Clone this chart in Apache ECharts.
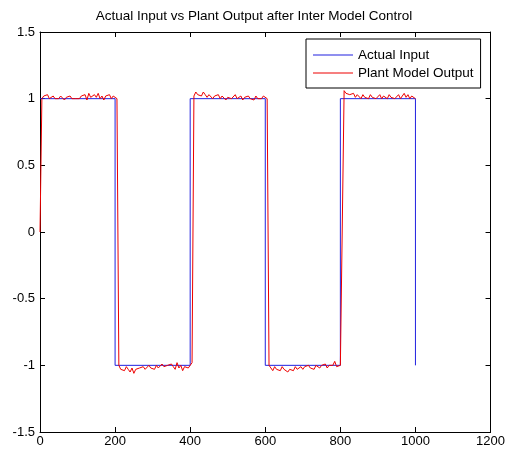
<!DOCTYPE html>
<html>
<head>
<meta charset="utf-8">
<script src="https://cdn.jsdelivr.net/npm/echarts@6/dist/echarts.min.js"></script>
<style>html,body{margin:0;padding:0;background:#fff;}#c{width:508px;height:456px;}</style>
</head>
<body>
<div id="c"></div>
<script>
const titleText = 'Actual Input vs Plant Output after Inter Model Control';
const seriesNames = ['Actual Input', 'Plant Model Output'];
const xTicks = [0, 200, 400, 600, 800, 1000, 1200];
const yTicks = [-1.5, -1, -0.5, 0, 0.5, 1, 1.5];

// Actual input (step signal): time and value pairs
const inputTimes  = [0, 200, 200, 400, 400, 600, 600, 800, 800, 1000, 1000];
const inputValues = [1, 1, -1, -1, 1, 1, -1, -1, 1, 1, -1];

// Plant model output, sampled every 5 time units from 0 to 1000
const outputStep = 5;
const outputValues = [
  0, 1.00, 1.02, 1.01, 1.03, 1.00, 1.01, 1.02, 1.00, 1.01,
  1.00, 1.02, 1.01, 0.99, 1.01, 1.00, 1.02, 1.00, 1.01, 1.00,
  1.01, 1.00, 1.02, 1.01, 1.03, 0.99, 1.04, 1.01, 1.00, 1.03,
  1.01, 1.04, 1.00, 1.02, 0.99, 1.02, 1.01, 1.03, 1.00, 1.02,
  1.01, 1.00,
  -1.00, -1.03, -1.02, -1.04, -1.01, -1.03, -1.05, -1.02,
  -1.06, -1.03, -1.04, -1.02, -1.03, -1.01, -1.03, -1.02, -1.00, -1.02,
  -1.01, -1.03, -1.00, -1.02, -1.01, -0.99, -1.01, -1.02, -1.00, -1.01,
  -0.99, -1.01, -1.03, -0.98, -1.02, -1.00, -1.04, -1.01, -1.00, -1.02,
  -1.00, -0.98,
  1.02, 1.05, 1.03, 1.04, 1.02, 1.05, 1.03, 1.01,
  1.03, 1.02, 1.00, 1.02, 1.01, 1.03, 1.00, 1.02, 1.01, 0.99,
  1.01, 1.02, 1.00, 1.01, 1.03, 1.00, 1.01, 1.02, 0.99, 1.01,
  1.00, 1.02, 1.00, 1.01, 0.99, 1.02, 1.00, 1.01, 1.00, 1.02,
  1.01, 1.00,
  -1.00, -1.02, -1.04, -1.01, -1.03, -1.02, -1.04, -1.01,
  -1.03, -1.02, -1.05, -1.03, -1.02, -1.04, -1.01, -1.03, -1.02, -1.01,
  -1.03, -1.01, -1.02, -1.00, -1.02, -1.01, -1.03, -1.00, -1.01, -1.02,
  -1.00, -1.01, -0.99, -1.02, -1.00, -1.01, -1.00, -0.97, -1.01, -1.00,
  -1.00, -0.99,
  1.06, 1.04, 1.05, 1.03, 1.02, 1.04, 1.01, 1.03,
  1.02, 1.00, 1.03, 1.01, 1.02, 1.00, 1.03, 1.01, 1.02, 1.00,
  1.01, 1.03, 1.00, 1.02, 1.01, 1.00, 1.03, 1.01, 1.02, 1.00,
  1.01, 1.03, 1.00, 1.02, 1.04, 1.01, 1.03, 1.00, 1.02, 1.01,
  1.00
];

const inputData = inputTimes.map((t, i) => [t, inputValues[i]]);
const outputData = outputValues.map((v, i) => [i * outputStep, v]);

const font = 'Liberation Sans, Arial, sans-serif';
const axisBase = {
  type: 'value',
  axisLine: { show: true, onZero: false, lineStyle: { color: '#000', width: 1 } },
  axisTick: { show: true, inside: true, length: 5, lineStyle: { color: '#000' } },
  splitLine: { show: false }
};

const chart = echarts.init(document.getElementById('c'), null, { renderer: 'canvas' });
chart.setOption({
  backgroundColor: '#fff',
  animation: false,
  title: {
    text: titleText,
    left: 'center',
    top: 4,
    textStyle: { fontFamily: font, fontSize: 13.5, fontWeight: 'normal', color: '#000' }
  },
  legend: {
    data: seriesNames,
    orient: 'vertical',
    left: 306,
    top: 39,
    padding: [9, 7, 8, 7],
    icon: 'rect',
    itemWidth: 40,
    itemHeight: 1,
    itemGap: 4,
    borderColor: '#000',
    borderWidth: 1,
    backgroundColor: '#fff',
    textStyle: { fontFamily: font, fontSize: 13.5, color: '#000' }
  },
  grid: { left: 40, right: 15, top: 32, bottom: 24, containLabel: false },
  xAxis: [
    Object.assign({}, axisBase, {
      min: 0, max: 1200, interval: 200, position: 'bottom',
      axisLabel: { color: '#000', fontFamily: font, fontSize: 13, margin: 3,
        formatter: v => xTicks.includes(v) ? String(v) : '' }
    }),
    Object.assign({}, axisBase, {
      min: 0, max: 1200, interval: 200, position: 'top',
      axisLabel: { show: false }
    })
  ],
  yAxis: [
    Object.assign({}, axisBase, {
      min: -1.5, max: 1.5, interval: 0.5, position: 'left',
      axisLabel: { color: '#000', fontFamily: font, fontSize: 13, margin: 5,
        formatter: v => yTicks.includes(v) ? String(v) : '' }
    }),
    Object.assign({}, axisBase, {
      min: -1.5, max: 1.5, interval: 0.5, position: 'right',
      axisLabel: { show: false }
    })
  ],
  series: [
    {
      name: seriesNames[0], type: 'line', data: inputData, symbol: 'none',
      xAxisIndex: 0, yAxisIndex: 0,
      lineStyle: { color: '#2020e0', width: 1 }, itemStyle: { color: '#2020e0' }
    },
    {
      name: seriesNames[1], type: 'line', data: outputData, symbol: 'none',
      xAxisIndex: 0, yAxisIndex: 0,
      lineStyle: { color: '#ee0000', width: 1 }, itemStyle: { color: '#ee0000' }
    }
  ]
});
</script>
</body>
</html>
